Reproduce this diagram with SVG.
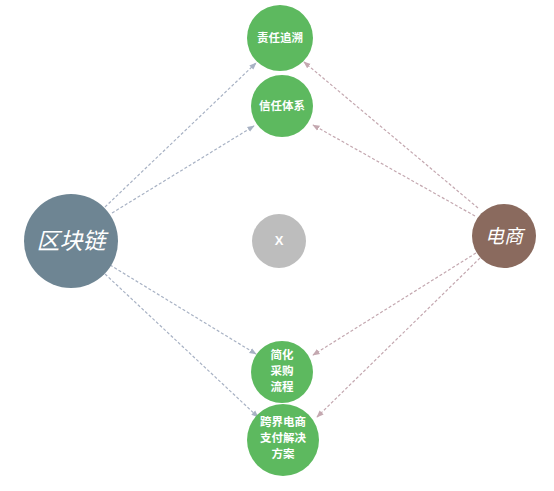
<svg xmlns="http://www.w3.org/2000/svg" width="554" height="491" viewBox="0 0 554 491">
<defs>
<marker id="ab" viewBox="0 0 10 10" refX="9" refY="5" markerWidth="6" markerHeight="6" orient="auto"><path d="M0,1 L10,5 L0,9 z" fill="#a8b2c4"/></marker>
<marker id="ar" viewBox="0 0 10 10" refX="9" refY="5" markerWidth="6" markerHeight="6" orient="auto"><path d="M0,1 L10,5 L0,9 z" fill="#c4a8b0"/></marker>
</defs>
<style>
.eb{stroke:#a8b2c4;stroke-width:1.2;stroke-dasharray:3,2;fill:none;marker-end:url(#ab)}
.er{stroke:#c4a8b0;stroke-width:1.2;stroke-dasharray:3,2;fill:none;marker-end:url(#ar)}
.g{fill:#5db95f}
.t{fill:#fff;font-family:"Noto Sans CJK SC","Liberation Sans",sans-serif;font-weight:bold;font-size:11.5px;text-anchor:middle}
.big{fill:#fff;font-family:"Noto Sans CJK SC","Liberation Sans",sans-serif;font-style:italic;text-anchor:middle}
</style>
<rect width="554" height="491" fill="#fff"/>
<g id="connectors">
<line class="eb" x1="105" y1="207" x2="256" y2="63"/>
<line class="eb" x1="112" y1="213" x2="254" y2="126"/>
<line class="eb" x1="110" y1="265" x2="256" y2="354"/>
<line class="eb" x1="105" y1="274" x2="258" y2="417"/>
<line class="er" x1="478" y1="208" x2="304" y2="62"/>
<line class="er" x1="475" y1="216" x2="313" y2="125"/>
<line class="er" x1="476" y1="253" x2="313" y2="355"/>
<line class="er" x1="480" y1="258" x2="317" y2="417"/>
</g>
<g id="n_zrzs"><circle class="g" cx="280" cy="38" r="33"/><text class="t" x="280" y="42">责任追溯</text></g>
<g id="n_xrtx"><circle class="g" cx="282" cy="106" r="31"/><text class="t" x="282" y="110">信任体系</text></g>
<g id="n_x"><circle fill="#bdbdbd" cx="279" cy="241" r="27"/><text class="t" x="279" y="245" style="font-family:'Liberation Sans',sans-serif;font-size:13px">X</text></g>
<g id="n_qkl"><circle fill="#6e8593" cx="71" cy="241" r="47"/><text class="big" x="71" y="249" font-size="23">区块链</text></g>
<g id="n_ds"><circle fill="#8a6a5e" cx="504" cy="236" r="32"/><text class="big" x="504" y="243" font-size="19">电商</text></g>
<g id="n_jhcg"><circle class="g" cx="282" cy="372" r="31"/><text class="t" x="282" y="359">简化</text><text class="t" x="282" y="375">采购</text><text class="t" x="282" y="391">流程</text></g>
<g id="n_kjds"><circle class="g" cx="283" cy="440" r="36"/><text class="t" x="283" y="426">跨界电商</text><text class="t" x="283" y="442">支付解决</text><text class="t" x="283" y="458">方案</text></g>
</svg>
